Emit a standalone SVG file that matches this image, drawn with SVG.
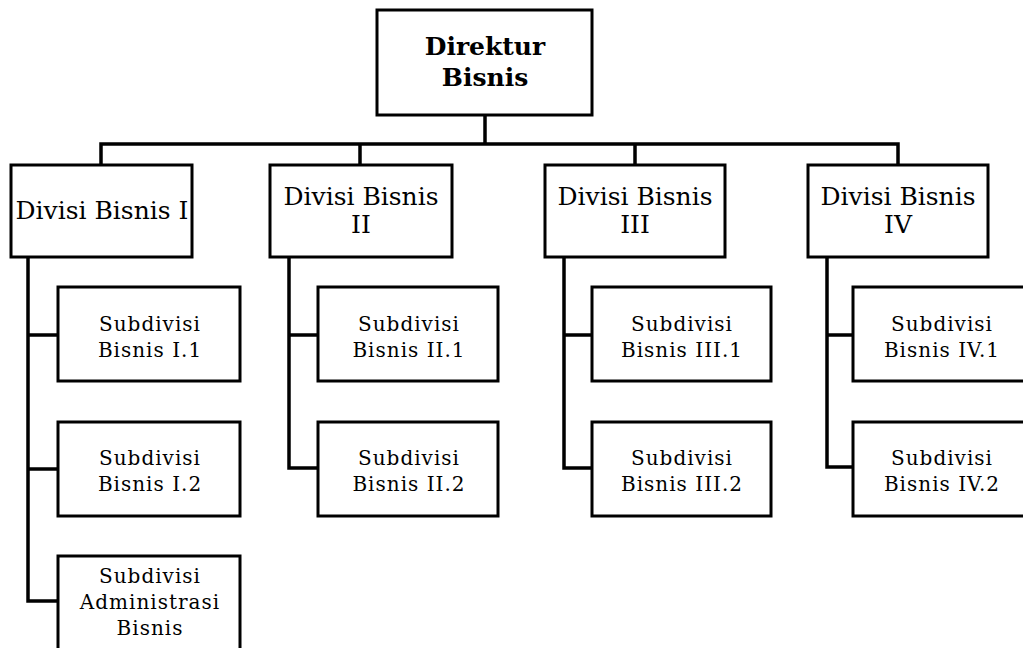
<svg xmlns="http://www.w3.org/2000/svg" width="1023" height="648" viewBox="0 0 1023 648">
<style>
.box{fill:#fff;stroke:#000;stroke-width:3}
.ln{fill:none;stroke:#000;stroke-width:3.5;stroke-linejoin:miter;stroke-linecap:square}
.top{font-family:"DejaVu Serif",serif;font-weight:bold;font-size:25px;text-anchor:middle;fill:#000}
.div{font-family:"DejaVu Serif",serif;font-size:25px;text-anchor:middle;fill:#000}
.sub{font-family:"DejaVu Serif",serif;font-size:20px;letter-spacing:1px;text-anchor:middle;fill:#000}
</style>
<rect width="1023" height="648" fill="#fff"/>
<g id="connectors">
<path class="ln" d="M485 115 V144 M101 144 H898 M101 144 V165 M360 144 V165 M635 144 V165 M898 144 V165"/>
<path class="ln" d="M28 257 V601 M28 335 H58 M28 469 H58 M28 601 H58"/>
<path class="ln" d="M289 257 V468 M289 335 H318 M289 468 H318"/>
<path class="ln" d="M564 257 V468 M564 335 H592 M564 468 H592"/>
<path class="ln" d="M827 257 V467 M827 335 H853 M827 467 H853"/>
</g>
<g id="direktur"><rect class="box" x="377" y="10" width="215" height="105"/><text class="top" x="485" y="55">Direktur</text><text class="top" x="485" y="86">Bisnis</text></g>
<g id="div1"><rect class="box" x="11" y="165" width="181" height="92"/><text class="div" x="102" y="219">Divisi Bisnis I</text></g>
<g id="div2"><rect class="box" x="270" y="165" width="182" height="92"/><text class="div" x="361" y="205">Divisi Bisnis</text><text class="div" x="361" y="233">II</text></g>
<g id="div3"><rect class="box" x="545" y="165" width="180" height="92"/><text class="div" x="635" y="205">Divisi Bisnis</text><text class="div" x="635" y="233">III</text></g>
<g id="div4"><rect class="box" x="808" y="165" width="180" height="92"/><text class="div" x="898" y="205">Divisi Bisnis</text><text class="div" x="898" y="233">IV</text></g>
<g id="sub1-1"><rect class="box" x="58" y="287" width="182" height="94"/><text class="sub" x="150" y="331">Subdivisi</text><text class="sub" x="150" y="357">Bisnis I.1</text></g>
<g id="sub1-2"><rect class="box" x="58" y="422" width="182" height="94"/><text class="sub" x="150" y="465">Subdivisi</text><text class="sub" x="150" y="491">Bisnis I.2</text></g>
<g id="sub1-adm"><rect class="box" x="58" y="556" width="182" height="100"/><text class="sub" x="150" y="583">Subdivisi</text><text class="sub" x="150" y="609">Administrasi</text><text class="sub" x="150" y="635">Bisnis</text></g>
<g id="sub2-1"><rect class="box" x="318" y="287" width="180" height="94"/><text class="sub" x="409" y="331">Subdivisi</text><text class="sub" x="409" y="357">Bisnis II.1</text></g>
<g id="sub2-2"><rect class="box" x="318" y="422" width="180" height="94"/><text class="sub" x="409" y="465">Subdivisi</text><text class="sub" x="409" y="491">Bisnis II.2</text></g>
<g id="sub3-1"><rect class="box" x="592" y="287" width="179" height="94"/><text class="sub" x="682" y="331">Subdivisi</text><text class="sub" x="682" y="357">Bisnis III.1</text></g>
<g id="sub3-2"><rect class="box" x="592" y="422" width="179" height="94"/><text class="sub" x="682" y="465">Subdivisi</text><text class="sub" x="682" y="491">Bisnis III.2</text></g>
<g id="sub4-1"><rect class="box" x="853" y="287" width="181" height="94"/><text class="sub" x="942" y="331">Subdivisi</text><text class="sub" x="942" y="357">Bisnis IV.1</text></g>
<g id="sub4-2"><rect class="box" x="853" y="422" width="181" height="94"/><text class="sub" x="942" y="465">Subdivisi</text><text class="sub" x="942" y="491">Bisnis IV.2</text></g>
</svg>
